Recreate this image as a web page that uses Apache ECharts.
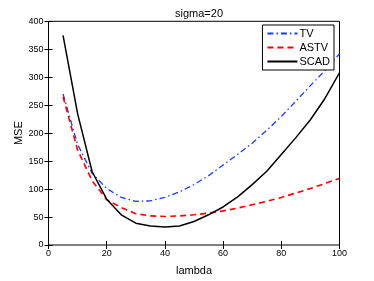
<!DOCTYPE html>
<html><head><meta charset="utf-8">
<script src="https://cdn.jsdelivr.net/npm/echarts@6/dist/echarts.min.js"></script>
<style>html,body{margin:0;padding:0;background:#fff}#c{width:374px;height:281px}</style>
</head><body><div id="c"></div>
<script>
const lambdas = [5,10,15,20,25,30,35,40,45,50,55,60,65,70,75,80,85,90,95,100];
const tv   = [270,180,128,101,85,78,79,85,95,108,124,143,162,182,205,230,257,285,312,342];
const astv = [265,170,115,81,67,56,52,51,52,54,57,61,66,72,78,85,93,101,110,119];
const scad = [375,235,131,82,54,39,34,32,34,42,54,68,86,108,132,162,192,224,262,308];
const xTicks = [0,20,40,60,80,100];
const yTicks = [0,50,100,150,200,250,300,350,400];

const pair = (ys) => lambdas.map((x,i)=>[x,ys[i]]);
const font = 'Liberation Sans, Arial, sans-serif';
const chart = echarts.init(document.getElementById('c'), null, {renderer:'canvas'});
const baseX = {type:'value', min:0, max:100, interval:20, splitLine:{show:false},
  axisLine:{show:false}, axisTick:{inside:true, length:4, lineStyle:{color:'#000'}}};
const baseY = {type:'value', min:0, max:400, interval:50, splitLine:{show:false},
  axisLine:{show:false}, axisTick:{inside:true, length:4, lineStyle:{color:'#000'}}};
chart.setOption({
  animation:false,
  backgroundColor:'#fff',
  title:{text:'sigma=20', left:194, top:3, textAlign:'center',
    textStyle:{fontFamily:font, fontSize:11, fontWeight:'normal', color:'#000'}},
  grid:{left:48.5, right:34.5, top:21.3, bottom:31.3, show:true, borderColor:'#000', borderWidth:1, backgroundColor:'transparent'},
  legend:{orient:'vertical', right:40, top:25, itemWidth:30, itemHeight:10, itemGap:3,
    padding:[3,4,3,4], backgroundColor:'#fff', borderColor:'#000', borderWidth:1,
    itemStyle:{opacity:0},
    textStyle:{fontFamily:font, fontSize:11, color:'#000', padding:[0,0,0,-3]},
    data:['TV','ASTV','SCAD']},
  xAxis:[
    Object.assign({}, baseX, {position:'bottom', name:'lambda', nameLocation:'middle', nameGap:20,
      nameTextStyle:{fontFamily:font, fontSize:11, color:'#000'},
      axisLabel:{fontFamily:font, fontSize:9, color:'#000', margin:4,
        formatter:(v)=>xTicks.includes(v)?String(v):''}}),
    Object.assign({}, baseX, {position:'top', axisLabel:{show:false}})
  ],
  yAxis:[
    Object.assign({}, baseY, {position:'left', name:'MSE', nameLocation:'middle', nameGap:24,
      nameMoveOverlap:false,
      nameTextStyle:{fontFamily:font, fontSize:11, color:'#000'},
      axisLabel:{fontFamily:font, fontSize:9, color:'#000', margin:5,
        formatter:(v)=>yTicks.includes(v)?String(v):''}}),
    Object.assign({}, baseY, {position:'right', axisLabel:{show:false}})
  ],
  series:[
    {name:'TV', type:'line', data:pair(tv), symbol:'none', smooth:false,
      lineStyle:{color:'#1a3cff', width:1.3, type:[6,3,1.5,3]}, itemStyle:{color:'#1a3cff'}, z:3},
    {name:'ASTV', type:'line', data:pair(astv), symbol:'none',
      lineStyle:{color:'#ff0000', width:1.6, type:[6,4]}, itemStyle:{color:'#ff0000'}, z:4},
    {name:'SCAD', type:'line', data:pair(scad), symbol:'none',
      lineStyle:{color:'#000', width:1.5, type:'solid'}, itemStyle:{color:'#000'}, z:5}
  ]
});
</script></body></html>
